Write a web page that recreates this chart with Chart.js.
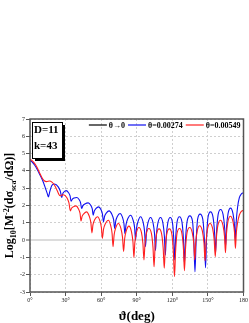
<!DOCTYPE html>
<html><head><meta charset="utf-8">
<script src="https://cdn.jsdelivr.net/npm/chart.js@4/dist/chart.umd.min.js"></script>
<style>html,body{margin:0;padding:0;background:#fff;}#wrap{width:249px;height:323px;}</style>
</head><body><div id="wrap"><canvas id="c" width="249" height="323"></canvas></div>
<script>
const seriesLabels = ['θ→0', 'θ=0.00274', 'θ=0.00549'];
const seriesColors = ['#000000', '#1010f0', '#ff2020'];
const annotationLines = ['D=11', 'k=43'];
const xTitle = 'ϑ(deg)';
const yTitleParts = [['Log', 'n'], ['10', 'sub'], ['[M', 'n'], ['-2', 'sup'], ['(dσ', 'n'], ['sca', 'sub'], ['/dΩ)]', 'n']];

const blueDeg = [0,2,4,6,8,10,11.5,13,14.5,15.6,16.4,17.6,19,20.7,
23.8,25.6,26.8,27.5,28.6,30.4,
32.5,33.8,34.6,35.6,37.1,39.6,
41.5,42.7,43.5,44.6,46.3,49.1,
51.2,52.5,53.3,54.2,55.5,57.8,
59.9,61.1,61.9,62.9,64.3,66.7,
69.0,70.5,71.4,72.3,73.6,75.9,
78.0,79.2,80,81.0,82.4,84.8,
86.9,88.2,89,89.8,91.1,93.2,
95.3,96.6,97.4,98.2,99.5,101.6,
103.7,105.0,105.8,106.6,107.9,110,
112.0,113.3,114.1,114.9,116.2,118.2,
120.1,121.2,122,122.8,124.0,126,
128.1,129.4,130.2,131.1,132.5,134.8,
137.0,138.2,139.1,140.0,141.3,143.4,
145.7,147.1,148,148.8,150.1,152.2,
154.3,155.6,156.4,157.3,158.6,160.7,
162.8,164.1,164.9,165.7,167.0,169.1,
171.1,172.3,173.1,173.9,175.0,176.5,178,180];
const blueVal = [4.60,4.50,4.33,4.10,3.82,3.55,3.30,3.00,2.70,2.50,2.72,3.02,3.20,3.24,
3.08,2.82,2.46,2.66,2.78,2.86,
2.74,2.55,2.25,2.36,2.43,2.46,
2.33,2.14,1.83,1.99,2.09,2.15,
2.01,1.80,1.44,1.68,1.82,1.92,
1.75,1.49,1.06,1.38,1.56,1.69,
1.49,1.18,0.67,1.11,1.37,1.54,
1.31,0.96,0.38,0.91,1.23,1.44,
1.16,0.72,0.00,0.68,1.08,1.35,
1.05,0.49,-0.38,0.47,1.01,1.31,
1.01,0.36,-0.60,0.36,1.01,1.31,
1.01,0.22,-0.87,0.22,1.01,1.31,
1.01,0.08,-1.15,0.10,1.05,1.35,
1.05,0.00,-1.35,0.02,1.10,1.40,
1.10,-0.21,-1.83,-0.16,1.20,1.50,
1.20,-0.05,-1.60,0.02,1.33,1.63,
1.33,0.43,-0.77,0.50,1.47,1.77,
1.47,0.70,-0.38,0.74,1.55,1.85,
1.55,0.93,0.00,1.10,1.90,2.45,2.65,2.74];

const redDeg = [0,2,4,6,8,10,12,14,16.5,18.5,20.7,22.8,24.5,25.5,26.8,28.2,
31.1,32.8,34.0,35.0,36.4,38.8,
40.9,42.2,43.0,43.9,45.3,47.7,
49.9,51.3,52.2,53.1,54.5,56.9,
59.0,60.2,61.0,62.0,63.5,66.1,
68.0,69.2,70.0,70.9,72.2,74.5,
76.7,78.0,78.9,79.8,81.1,83.4,
85.5,86.8,87.6,88.4,89.7,91.8,
94.0,95.2,96.1,96.9,98.1,100.2,
102.4,103.7,104.6,105.4,106.7,108.8,
111.0,112.3,113.2,114.0,115.3,117.5,
119.6,120.9,121.8,122.7,123.9,126.1,
128.1,129.4,130.2,131.1,132.4,134.7,
136.8,138.1,138.9,139.7,141.0,143.0,
145.3,146.7,147.6,148.4,149.7,151.8,
154.0,155.3,156.2,157.1,158.4,160.6,
162.7,164.0,164.8,165.6,166.9,169.0,
171.1,172.4,173.2,174.0,175.0,176.5,178,180];
const redVal = [4.68,4.58,4.42,4.20,3.90,3.62,3.43,3.38,3.42,3.35,3.17,2.88,2.62,2.56,2.60,2.62,
2.45,2.16,1.69,1.84,1.92,1.98,
1.80,1.54,1.10,1.37,1.52,1.63,
1.39,1.02,0.42,0.89,1.17,1.35,
1.10,0.72,0.10,0.63,0.94,1.15,
0.85,0.39,-0.38,0.29,0.69,0.96,
0.66,0.16,-0.65,0.08,0.52,0.81,
0.51,-0.10,-1.00,-0.13,0.43,0.73,
0.43,-0.21,-1.15,-0.24,0.37,0.67,
0.37,-0.43,-1.54,-0.44,0.35,0.65,
0.35,-0.49,-1.63,-0.49,0.35,0.65,
0.35,-0.73,-2.12,-0.72,0.37,0.67,
0.37,-0.55,-1.77,-0.52,0.43,0.73,
0.43,-0.21,-1.15,-0.16,0.53,0.83,
0.53,-0.18,-1.20,-0.12,0.66,0.96,
0.66,0.00,-0.96,0.10,0.85,1.15,
0.85,0.21,-0.73,0.33,1.08,1.38,
1.08,0.45,-0.48,0.45,1.00,1.45,1.65,1.72];

// θ→0 coincides with θ=0.00274 at this scale; in the reference it lies hidden beneath the blue curve
const limitDeg = blueDeg;
const limitVal = blueVal;

function pts(xs, ys) { return xs.map((x, i) => ({x: x, y: ys[i]})); }

const SERIF = '"Liberation Serif", "DejaVu Serif", serif';

const framePlugin = {
  id: 'frame',
  afterDatasetsDraw(chart) {
    const {ctx, chartArea: a} = chart;
    ctx.save();
    ctx.strokeStyle = '#555';
    ctx.lineWidth = 1.5;
    ctx.strokeRect(a.left, a.top, a.right - a.left, a.bottom - a.top);
    ctx.restore();
  }
};

const overlayPlugin = {
  id: 'overlay',
  afterDraw(chart) {
    const {ctx, chartArea: a} = chart;
    ctx.save();
    // annotation box
    const bx = a.left + 2, by = a.top + 3, bw = 30, bh = 36;
    ctx.fillStyle = '#000';
    ctx.fillRect(bx + 3, by + 3, bw, bh);
    ctx.fillStyle = '#fff';
    ctx.fillRect(bx, by, bw, bh);
    ctx.strokeStyle = '#000';
    ctx.lineWidth = 1;
    ctx.strokeRect(bx + 0.5, by + 0.5, bw, bh);
    ctx.fillStyle = '#000';
    ctx.font = 'bold 11px ' + SERIF;
    ctx.textBaseline = 'alphabetic';
    ctx.textAlign = 'left';
    ctx.fillText(annotationLines[0], bx + 2, by + 11);
    ctx.fillText(annotationLines[1], bx + 2, by + 27);

    // legend inside plot, top right
    ctx.font = 'bold 8px ' + SERIF;
    const lineLen = 18, gapA = 2, gapB = 3;
    const ds = chart.data.datasets;
    let total = 0;
    ds.forEach((d, i) => { total += lineLen + gapA + ctx.measureText(d.label).width + (i < ds.length - 1 ? gapB : 0); });
    let x = a.right - 3 - total;
    const ly = a.top + 6;
    ctx.textBaseline = 'middle';
    ds.forEach((d, i) => {
      ctx.strokeStyle = d.borderColor;
      ctx.lineWidth = 1.2;
      ctx.beginPath(); ctx.moveTo(x, ly); ctx.lineTo(x + lineLen, ly); ctx.stroke();
      x += lineLen + gapA;
      ctx.fillStyle = '#000';
      ctx.fillText(d.label, x, ly + 0.5);
      x += ctx.measureText(d.label).width + gapB;
    });

    // x title
    ctx.font = 'bold 13px ' + SERIF;
    ctx.textAlign = 'center';
    ctx.textBaseline = 'alphabetic';
    ctx.fillText(xTitle, (a.left + a.right) / 2, 320);

    // y title (rotated, with sub/superscripts)
    ctx.translate(13, (a.top + a.bottom) / 2);
    ctx.rotate(-Math.PI / 2);
    ctx.textAlign = 'left';
    const fontFor = s => s === 'n' ? 'bold 12px ' + SERIF : 'bold 8px ' + SERIF;
    let tw = 0;
    const widths = yTitleParts.map(p => { ctx.font = fontFor(p[1]); const w = ctx.measureText(p[0]).width; tw += w; return w; });
    let px = -tw / 2;
    yTitleParts.forEach((p, i) => {
      ctx.font = fontFor(p[1]);
      const off = p[1] === 'sub' ? 3 : (p[1] === 'sup' ? -4.5 : 0);
      ctx.fillText(p[0], px, off);
      px += widths[i];
    });
    ctx.restore();
  }
};

new Chart(document.getElementById('c'), {
  type: 'line',
  data: {
    datasets: [
      {label: seriesLabels[0], data: pts(limitDeg, limitVal), borderColor: seriesColors[0], showLine: false, order: 2},
      {label: seriesLabels[1], data: pts(blueDeg, blueVal), borderColor: seriesColors[1], order: 1},
      {label: seriesLabels[2], data: pts(redDeg, redVal), borderColor: seriesColors[2], order: 0}
    ]
  },
  options: {
    responsive: false,
    animation: false,
    devicePixelRatio: 1,
    layout: {padding: {top: 119, right: 4, left: 0, bottom: 0}},
    elements: {
      point: {radius: 0},
      line: {borderWidth: 1.1, cubicInterpolationMode: 'monotone', fill: false}
    },
    plugins: {legend: {display: false}, tooltip: {enabled: false}},
    scales: {
      x: {
        type: 'linear', min: 0, max: 180,
        afterFit(s) { s.height = 31; },
        ticks: {stepSize: 30, padding: 1, color: '#222', font: {family: SERIF, size: 6},
          callback: v => v === 180 ? '180' : v + '°', maxRotation: 0},
        grid: {color: '#cfcfcf', lineWidth: 1, tickLength: 4, tickColor: '#555', tickWidth: 1},
        border: {display: false, dash: [2, 2]}
      },
      y: {
        type: 'linear', min: -3, max: 7,
        afterFit(s) { s.width = 30; },
        ticks: {stepSize: 1, padding: 1, color: '#222', font: {family: SERIF, size: 6}},
        grid: {
          color: c => (c.tick && c.tick.value === 0) ? '#dcdcdc' : '#cfcfcf',
          lineWidth: c => (c.tick && c.tick.value === 0) ? 2 : 1,
          tickLength: 4, tickColor: '#555', tickWidth: 1
        },
        border: {display: false, dash: c => (c.tick && c.tick.value === 0) ? [] : [2, 2]}
      }
    }
  },
  plugins: [framePlugin, overlayPlugin]
});
</script>
</body></html>
